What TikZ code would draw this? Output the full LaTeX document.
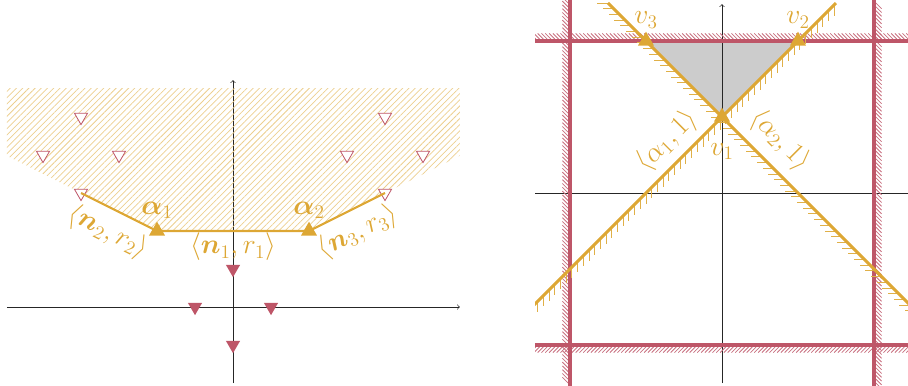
\documentclass[tikz,border=0pt]{standalone}
\usepackage{amsmath,bm}
\usetikzlibrary{shapes.geometric,patterns.meta}
\definecolor{gold}{RGB}{221,167,52}
\definecolor{rose}{RGB}{190,86,104}
\begin{document}
\begin{tikzpicture}[
  axis/.style={->,line width=0.5pt,black!85},
  fmark/.style={regular polygon,regular polygon sides=3,shape border rotate=180,fill=rose,inner sep=0pt,minimum size=0.43cm},
  hmark/.style={regular polygon,regular polygon sides=3,shape border rotate=180,draw=rose,fill=white,line width=0.6pt,inner sep=0pt,minimum size=0.40cm},
  vmark/.style={regular polygon,regular polygon sides=3,fill=gold,inner sep=0pt,minimum size=0.49cm},
  lab/.style={text=gold,font=\huge,inner sep=1pt},
  gline/.style={gold,line width=1.6pt},
  rline/.style={rose,line width=2.6pt},
  rtick/.style={rose!85,line width=0.6pt},
  gtick/.style={gold!90,line width=0.7pt},
]
\useasboundingbox (-6.132,-2.053) rectangle (17.763,8.079);
% ---------------- left panel ----------------
\draw[axis] (-5.95,0) -- (5.97,0);
\draw[axis] (0,-2) -- (0,5.97);
\fill[pattern={Lines[angle=45,distance=3.3pt,line width=0.55pt]},pattern color=gold!55]
  (-5.95,5.76) -- (-5.95,3.98) -- (-2,2) -- (2,2) -- (5.97,3.98) -- (5.97,5.76) -- cycle;
\coordinate (p1) at (-4,3);
\coordinate (q1) at (-2,2);
\coordinate (q2) at (2,2);
\coordinate (p2) at (4,3);
\node[fmark] (f1) at (-1,0) {};
\node[fmark] (f2) at (1,0) {};
\node[fmark] (f3) at (0,1) {};
\node[fmark] (f4) at (0,-1) {};
\node[hmark] (h1) at (p1) {};
\node[hmark] (h2) at (p2) {};
\node[hmark] (h3) at (-5,4) {};
\node[hmark] (h4) at (-3,4) {};
\node[hmark] (h5) at (3,4) {};
\node[hmark] (h6) at (5,4) {};
\node[hmark] (h7) at (-4,5) {};
\node[hmark] (h8) at (4,5) {};
\draw[gline] (p1) -- (q1) -- (q2) -- (p2);
\node[vmark] (a1) at (q1) {};
\node[vmark] (a2) at (q2) {};
\node[lab] (la1) at (-2,2.55) {$\bm{\alpha}_1$};
\node[lab] (la2) at (2,2.55) {$\bm{\alpha}_2$};
\node[lab] (ln1) at (0,1.58) {$\langle\bm{n}_1,r_1\rangle$};
\node[lab,rotate=-26.57] (ln2) at (-3.29,1.97) {$\langle\bm{n}_2,r_2\rangle$};
\node[lab,rotate=26.57] (ln3) at (3.29,1.97) {$\langle\bm{n}_3,r_3\rangle$};
% ---------------- right panel ----------------
\begin{scope}[shift={(12.868,3)}]
\clip (-4.92,-5.1) rectangle (4.95,5.1);
\fill[gray!40] (0,2) -- (2,4) -- (-2,4) -- cycle;
\draw[axis] (-4.92,0) -- (5,0);
\draw[axis] (0,-5) -- (0,4.97);
\foreach \t in {-5,-4.9,...,5.1}{
  \draw[rtick] (\t,4.05) -- ++(-0.15,0.15);
  \draw[rtick] (\t,-4.05) -- ++(-0.15,-0.15);
  \draw[rtick] (-4.05,\t) -- ++(-0.15,0.15);
  \draw[rtick] (4.05,\t) -- ++(0.15,-0.15);
}
\draw[rline] (-5,4) -- (5,4);
\draw[rline] (-5,-4) -- (5,-4);
\draw[rline] (-4,-5.2) -- (-4,5.2);
\draw[rline] (4,-5.2) -- (4,5.2);
\foreach \x in {-5,-4.85,...,3}{
  \draw[gtick] (\x,{\x+2}) -- ++(0,-0.28);
}
\foreach \x in {-3,-2.85,...,5.1}{
  \draw[gtick] (\x,{2-\x}) -- ++(-0.28,0);
}
\draw[gline,line width=2.2pt] (-5,-3) -- (3,5);
\draw[gline,line width=2.2pt] (-3,5) -- (5,-3);
\node[vmark] (v1) at (0,2) {};
\node[vmark] (v2) at (2,4) {};
\node[vmark] (v3) at (-2,4) {};
\node[lab] (lv1) at (0,1.1) {$v_1$};
\node[lab] (lv2) at (2,4.55) {$v_2$};
\node[lab] (lv3) at (-2,4.55) {$v_3$};
\node[lab,rotate=45] (lb1) at (-1.45,1.37) {$\langle\alpha_1,1\rangle$};
\node[lab,rotate=-45] (lb2) at (1.53,1.39) {$\langle\alpha_2,1\rangle$};
\end{scope}
\end{tikzpicture}
\end{document}
